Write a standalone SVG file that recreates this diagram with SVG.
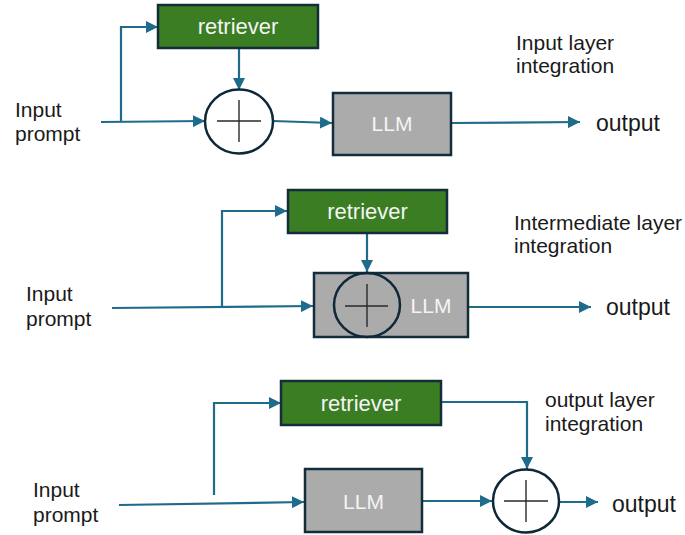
<svg xmlns="http://www.w3.org/2000/svg" width="685" height="535" viewBox="0 0 685 535">
<defs>
<style>
.ret{fill:#3a7d22;stroke:#142d3b;stroke-width:2.5}
.llm{fill:#ababab;stroke:#142d3b;stroke-width:2.5}
.sum{fill:#ffffff;stroke:#0f2838;stroke-width:2.5}
.sumt{fill:none;stroke:#0f2838;stroke-width:2.5}
.plus{stroke:#2a2a2a;stroke-width:1.4;fill:none}
.con{fill:none;stroke:#1e6b8c;stroke-width:2.2;marker-end:url(#ah)}
.lbl{font-family:"Liberation Sans",Arial,sans-serif;font-size:21px;fill:#1a1a1a}
.out{font-family:"Liberation Sans",Arial,sans-serif;font-size:23px;fill:#1a1a1a}
.wt{font-family:"Liberation Sans",Arial,sans-serif;font-size:22px;fill:#f4f4f4;text-anchor:middle}
.wl{font-family:"Liberation Sans",Arial,sans-serif;font-size:21px;fill:#f4f4f4;text-anchor:middle}
</style>
<marker id="ah" markerUnits="userSpaceOnUse" markerWidth="13" markerHeight="12" refX="12" refY="6" orient="auto">
<path d="M0,0 L12,6 L0,12 z" fill="#1e6b8c"/>
</marker>
</defs>
<rect width="685" height="535" fill="#ffffff"/>

<g id="connectors">
<path class="con" d="M101,122 L205,121"/>
<path class="con" d="M121,122 V27 H158"/>
<path class="con" d="M239,48 V90"/>
<path class="con" d="M273,121 L332,123"/>
<path class="con" d="M451,123 L580,122"/>

<path class="con" d="M112,308 L313,306"/>
<path class="con" d="M222,307 V211 H287"/>
<path class="con" d="M367,233 V272"/>
<path class="con" d="M469,307 L591,307"/>

<path class="con" d="M119,505 L304,502"/>
<path class="con" d="M214,495 V403 H281"/>
<path class="con" d="M441,402 H527 V469"/>
<path class="con" d="M422,501 H492"/>
<path class="con" d="M559,502 L598,502"/>
</g>

<g id="retriever1">
<rect class="ret" x="158" y="5" width="160" height="43"/>
<text class="wt" x="238" y="34">retriever</text>
</g>
<g id="sum1">
<ellipse class="sum" cx="239" cy="121.5" rx="34" ry="32"/>
<path class="plus" d="M217,121 H261 M239,100 V142"/>
</g>
<g id="llm1">
<rect class="llm" x="333" y="93" width="118" height="62"/>
<text class="wl" x="392" y="131">LLM</text>
</g>
<g id="labels1">
<text class="lbl" x="15" y="117">Input</text>
<text class="lbl" x="15" y="141">prompt</text>
<text class="out" x="596" y="131">output</text>
<text class="lbl" x="516" y="50">Input layer</text>
<text class="lbl" x="516" y="73">integration</text>
</g>

<g id="retriever2">
<rect class="ret" x="288" y="190" width="159" height="43"/>
<text class="wt" x="367.5" y="219">retriever</text>
</g>
<g id="llm2">
<rect class="llm" x="314" y="273" width="154" height="64"/>
<text class="wl" x="431" y="313">LLM</text>
</g>
<g id="sum2">
<ellipse class="sumt" cx="367" cy="305" rx="33" ry="32"/>
<path class="plus" d="M345,306 H388 M367,284 V327"/>
</g>
<g id="labels2">
<text class="lbl" x="26" y="301">Input</text>
<text class="lbl" x="26" y="326">prompt</text>
<text class="out" x="606" y="315">output</text>
<text class="lbl" x="514" y="230">Intermediate layer</text>
<text class="lbl" x="514" y="253">integration</text>
</g>

<g id="retriever3">
<rect class="ret" x="281" y="381" width="160" height="44"/>
<text class="wt" x="361" y="411">retriever</text>
</g>
<g id="llm3">
<rect class="llm" x="305" y="469" width="117" height="63"/>
<text class="wl" x="363.5" y="509">LLM</text>
</g>
<g id="sum3">
<ellipse class="sum" cx="526" cy="501" rx="33" ry="31.5"/>
<path class="plus" d="M504,501 H548 M526,480 V522"/>
</g>
<g id="labels3">
<text class="lbl" x="33" y="497">Input</text>
<text class="lbl" x="33" y="522">prompt</text>
<text class="out" x="612" y="512">output</text>
<text class="lbl" x="545" y="407">output layer</text>
<text class="lbl" x="545" y="431">integration</text>
</g>
</svg>
